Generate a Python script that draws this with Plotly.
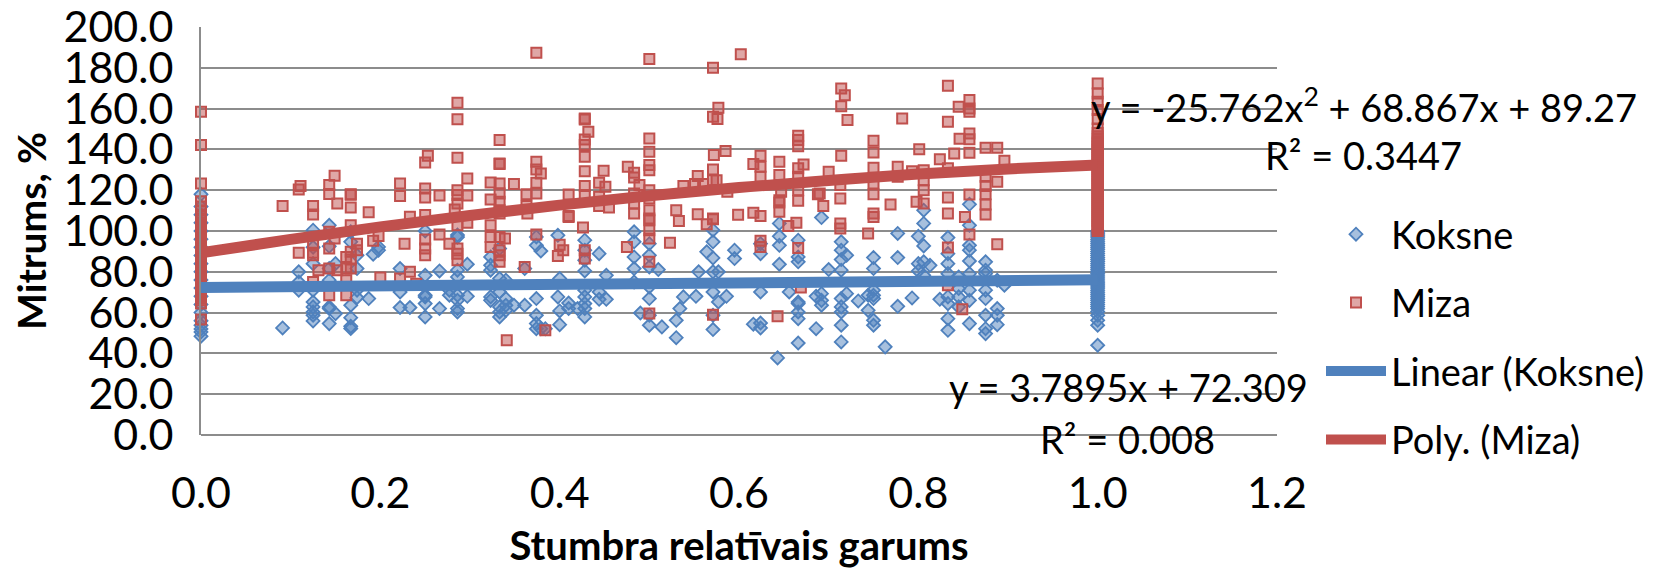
import plotly.graph_objects as go

koksne_x = [0.0,0.091,0.109,0.125,0.143,0.15,0.167,0.174,0.187,0.192,0.198,0.222,0.233,0.25,0.266,0.277,0.286,0.297,0.323,0.333,0.34,
            0.349,0.361,0.374,0.379,0.384,0.398,0.4,0.41,0.42,0.428,0.444,0.452,0.483,0.49,0.5,0.51,0.514,0.53,0.534,0.538,0.552,0.555,0.564,0.571,0.577,0.586,
            0.595,0.616,0.624,0.643,0.645,0.656,0.666,0.686,0.692,0.7,0.714,0.72,0.733,0.744,0.75,0.763,0.777,0.793,0.8,0.806,0.813,0.824,0.833,0.845,0.857,0.875,0.888,0.896,1.0]
koksne_y = [
 [118,112,108,104,100,96,92,88,84,80,76,72,68,64,60,56,53.8,52,50.5,48.4],
 [52.5],[80,75,71],
 [100.4,92,84,71,65.2,62.8,58.7,55.9,60.3],
 [102.8,92.5,81.6,75.9,62.8,62,54.6],
 [84,59.5],
 [99.6,94.7,63.6,53.3,52.2,57.5],
 [81.6,88.1,67.4,71],[66.9],[88.6],[90.6,92.2],
 [81.6,70.1,62.5],[62.5],
 [100,78.3,68.5,64.4,57.9,67.7],[80.4,62],[68.5,71],
 [98,97,80.8,68.5,66,62,60.3,77.5],[83.7,68],
 [83.2,80.8,87.3,67.7,66],[91.4,76.7,70.1,62.8,60.3,57.9],[66.9,75.9,61.1,63.6],
 [63.6],[81.6,63.6],[97.1,93,66.9,58.7,54.6,52.1],[90.2,52.1],[52.1],
 [97.9,67.7],[76.7,60.8,54.1],[64.7,62],[62],
 [95.5,90.6,85.7,80.4,71,67.7,64.4,62,57.9],[88.9,70.1,66.5],[78.3,66.5],
 [99.6,94.7,87.3,81.6,75],[59.8],
 [93.8,88.1,82.4,72.6,66.9,58.7,53.8],[81.1],[53],[47.7,56.2],[62],[67.7],[68],
 [80],[89.8],
 [100.4,94.7,86.8,80,70.1,58.7,51.7],[65.2,80],[68],
 [86.5,90.6],[54.3],[54.9,52.5,70.1,88.9,93.8],[37.8],[103.7,97.4,93,83.7],[70.1],
 [95.5,87.3,84.9,65.2,60.3,57,45.1,64.4],
 [52.1,68],[106.6,66,63.6,69.3],[81.1],
 [94.7,90.6,86,80.8,66.9,62.8,60.3,53.8,45.6],[88.1,69.3],[65.7],[68.5,61.1],[87,81.6,71,66.9,56.2,53.8,68.5],
 [43.2],[98.8,87,63.1],[67.2],[97.4,84,80.4],
 [110.2,103.7,92.7,84.9,78.3],[83.2],[66.5],
 [96.8,88.9,84,79.1,67.7,64.4,57,51.3],[77.5,71.8,67.7,62.8],
 [113.1,102.8,93,90.6,79.1,71,66,54.6,85.3],
 [84.9,80.8,71,66.9,58.7,52.1,49.7,79.1],[62,58.7,54.1,75.9],[73.4],
 [100,99,98,97,96,95,94,93,92,91,90,89,88,87,86,85,84,83,82,81,80,79,78,77,76,75,74,73,72,71,70,69,68,67,66,65,64,63,62,60.5,58.7,56.2,53.8,44],
]

miza_x = [0.0,0.091,0.109,0.111,0.125,0.131,0.143,0.149,0.152,0.162,0.167,0.174,0.187,0.192,0.198,0.2,0.227,0.222,0.233,0.24,0.25,0.253,0.266,0.277,0.283,0.286,0.297,0.323,0.333,0.339,0.341,
          0.349,0.361,0.363,0.364,0.374,0.379,0.384,0.398,0.4,0.404,0.41,0.426,0.428,0.432,0.444,0.449,0.451,0.455,0.475,0.476,0.483,0.489,0.5,0.523,0.53,0.533,0.538,
          0.551,0.554,0.56,0.564,0.571,0.572,0.575,0.576,0.577,0.585,0.587,0.599,0.602,0.616,0.624,0.643,0.645,0.647,0.655,0.664,0.666,0.669,0.672,0.688,
          0.69,0.694,0.7,0.713,0.714,0.718,0.721,0.744,0.75,0.769,0.777,0.782,0.793,0.798,0.801,0.806,0.824,0.833,0.84,0.845,0.846,0.849,0.852,0.857,0.875,0.888,0.896,1.0]
miza_y = [
 [158.4,142.1,123.3,114.6,112,110,108,106,104,103,102,101,100,99,98,97,96,95,94,93,92,91,90,89,88,87,86,85,84,83,82,81,80,79,78,77,76,75,74,73,72,71,70,69,68,67,66,64.4,56.6],
 [112.3],[120.4,89.3],[122.1],[112.3,108.1,93.8,89.3,88.1,75],[80.8],[122.5,118.1,99.6,91.4,81.6,68.5],[127.1,96.3],[113.5,80.8],[87.3,81.6,75.9,68.5],
 [118,117.8,111.5,102.8,89.8,86,81.6],[93.8,90.6],[109.2],[95.2],[97.6],[77.2],[93.8],[123.3,117.1,76.7],[107,80],[74.2],
 [120.8,116.4,107.8,133.6,95.8,91.4,88.1],[136.9],[117.4,98.3],[93.8],[110.5],[162.9,154.8,135.9,120,117.6,113.5,102.8,91.4,88.9,85.7],[125.7,117.4,104],
 [123.8,115.4,102.8,97.1,92.2],[144.6,133.1,132.8,123.3,118.4,114.3,110.2,108.6,97.1,90.6,88.1,84.9],[96.3],[46.4],
 [123],[82.4],[118,112.3],[108.6],[187.4,133.9,130.2,123.6,118.4,98.3],[128.2],[51.3],[87.8],[93.3],[90.6],[117.9,107.3,106.9],[101.7],
 [155.2,154.7,144.9,142.1,136.4,129.3,122.1,117.6,90.6,86.5],[148.6],[123.6,116.8,112.3],[129.5],[121.7],[111.5],[92.2],[131.5],[128.5,126.2,118.4,113.5,108.6],[122.5],
 [184.3,145.4,138.8,132.3,129.8,120,115.9,110.2,106.1,105.3,100.4,96.3,84.9,59.5],[94.3],[110.2],[104.9],[122.1],
 [123],[126.9,108.2],[123],[103.3],[180,156,130.2,124.9,106.1,105.8,59],[137.2],[124.9],[154.9],[160.4],[139.2],[119.2],[108],[186.7],[108.9,132.8],
 [136.9,131.5,126.6,107.4,95.2,92.2],[58.2],[133.9,127.4,115.1,114,109.4],[119.2],[102.5],[104],[146.7,144.6,141.6,130.7,126.6,120,114.8,91.7],[72.3],[132.6],[118],
 [118.4],[112.3],[129],[122.5,115.9,103.7,101.2],[169.9,161.2,136.9],[166.6],[154.4],[98.8],[144.2,138.5,131,123.3,118,108.6,106.9],[113],[131.5,126.6],[155.2],[129.3],[114.3],[140.1],
 [129.8,124.9,120,113.5],[135.2],[171.2,153.5,130.7,116.4,108.6,91.9,73.4],[138],[160.9],[145.2],[61.6],[106.9],[164.2,160.1,158.4,147.8,145,138.3,117.9,98.3],
 [140.8,126.6,122,118,113,108.1],[140.8,124.1,93.5],[134.4],
 [172.3,167.4,163.4,159.3,154.9,150.3,148,146.5,145,144,143,142,141,140,139,138,137,136,135,134,133,132,131,130,129,128,127,126,125,124,123,122,121,120,119,118,117,116,115,114,113,112,111,110,109,108,107,106,105,104,103,102,101,100],
]

assert len(koksne_x) == len(koksne_y)
assert len(miza_x) == len(miza_y)

linear_x = [0.0, 1.0]
linear_y = [72.3, 76.1]
poly_x = [0.0, 0.1, 0.2, 0.3, 0.4, 0.5, 0.6, 0.7, 0.8, 0.9, 1.0]
poly_y = [89.3, 95.9, 102.0, 107.6, 112.7, 117.3, 121.3, 124.8, 127.9, 130.4, 132.4]

names = ["Koksne", "Miza", "Linear (Koksne)", "Poly. (Miza)"]
x_title = "Stumbra relatīvais garums"
y_title = "Mitrums, %"
eq_poly = "y = -25.762x<sup>2</sup> + 68.867x + 89.27"
r2_poly = "R² = 0.3447"
eq_lin = "y = 3.7895x + 72.309"
r2_lin = "R² = 0.008"

FONT = "Lato"
BLUE = "#4F81BD"
RED = "#C0504D"
GRID = "#8C8C8C"
OFF = 8            # the page's own margin round the figure
W, H = 1656 - OFF, 569 - OFF
L, R, T, B = 200.5 - OFF, 1277 - OFF, 27 - OFF, 435 - OFF

def flat(xs, yss):
    px, py = [], []
    for x, ys in zip(xs, yss):
        for y in ys:
            px.append(x)
            py.append(y)
    return px, py

kx, ky = flat(koksne_x, koksne_y)
mx, my = flat(miza_x, miza_y)

fig = go.Figure()
fig.add_trace(go.Scatter(x=kx, y=ky, mode="markers", name=names[0], legendgroup="a", cliponaxis=False,
    marker=dict(symbol="diamond", size=10, color="rgba(79,129,189,0.5)", line=dict(color=BLUE, width=1.8))))
fig.add_trace(go.Scatter(x=mx, y=my, mode="markers", name=names[1], legendgroup="b", cliponaxis=False,
    marker=dict(symbol="square", size=10, color="rgba(192,80,77,0.5)", line=dict(color=RED, width=2))))
fig.add_trace(go.Scatter(x=linear_x, y=linear_y, mode="lines", name=names[2], legendgroup="c",
    line=dict(color=BLUE, width=11)))
fig.add_trace(go.Scatter(x=poly_x, y=poly_y, mode="lines", name=names[3], legendgroup="d",
    line=dict(color=RED, width=11, shape="spline")))

def note(text, cx, cy):
    cx -= OFF
    cy -= OFF
    fig.add_annotation(text=text, xref="paper", yref="paper", x=(cx - L) / (R - L), y=(B - cy) / (B - T),
                       showarrow=False, xanchor="center", yanchor="middle",
                       font=dict(family=FONT, size=38, color="black"))

note(eq_poly, 1364.5, 105)
note(r2_poly, 1364, 155)
note(eq_lin, 1128, 387)
note(r2_lin, 1127, 439)

fig.update_layout(
    width=W, height=H, autosize=False,
    margin=dict(l=L, r=W - R, t=T, b=H - B, pad=0),
    paper_bgcolor="white", plot_bgcolor="white",
    font=dict(family=FONT, size=38, color="black"),
    legend=dict(xref="container", yref="container",
                x=(1321 - OFF) / W, y=1 - (203 - OFF) / H, xanchor="left", yanchor="top",
                traceorder="grouped", tracegroupgap=16, itemwidth=60, itemclick=False,
                bgcolor="rgba(0,0,0,0)", font=dict(family=FONT, size=38)),
    xaxis=dict(range=[0, 1.2], dtick=0.2, tick0=0, tickformat=".1f", showgrid=False, zeroline=False,
               showline=False, ticks="", ticklabelstandoff=29, ticklabeloverflow="allow", automargin=False,
               tickfont=dict(family=FONT, size=43),
               title=dict(text="<b>%s</b>" % x_title, font=dict(family=FONT, size=40), standoff=19)),
    yaxis=dict(range=[0, 200], dtick=20, tick0=0, tickformat=".1f", showgrid=True, gridcolor=GRID, gridwidth=2,
               zeroline=True, zerolinecolor=GRID, zerolinewidth=2, showline=True, linecolor=GRID, linewidth=2,
               ticks="", ticklabelstandoff=17, ticklabeloverflow="allow", automargin=False,
               tickfont=dict(family=FONT, size=43),
               title=dict(text="<b>%s</b>" % y_title, font=dict(family=FONT, size=39), standoff=6)),
)

fig.write_html("out.html")
